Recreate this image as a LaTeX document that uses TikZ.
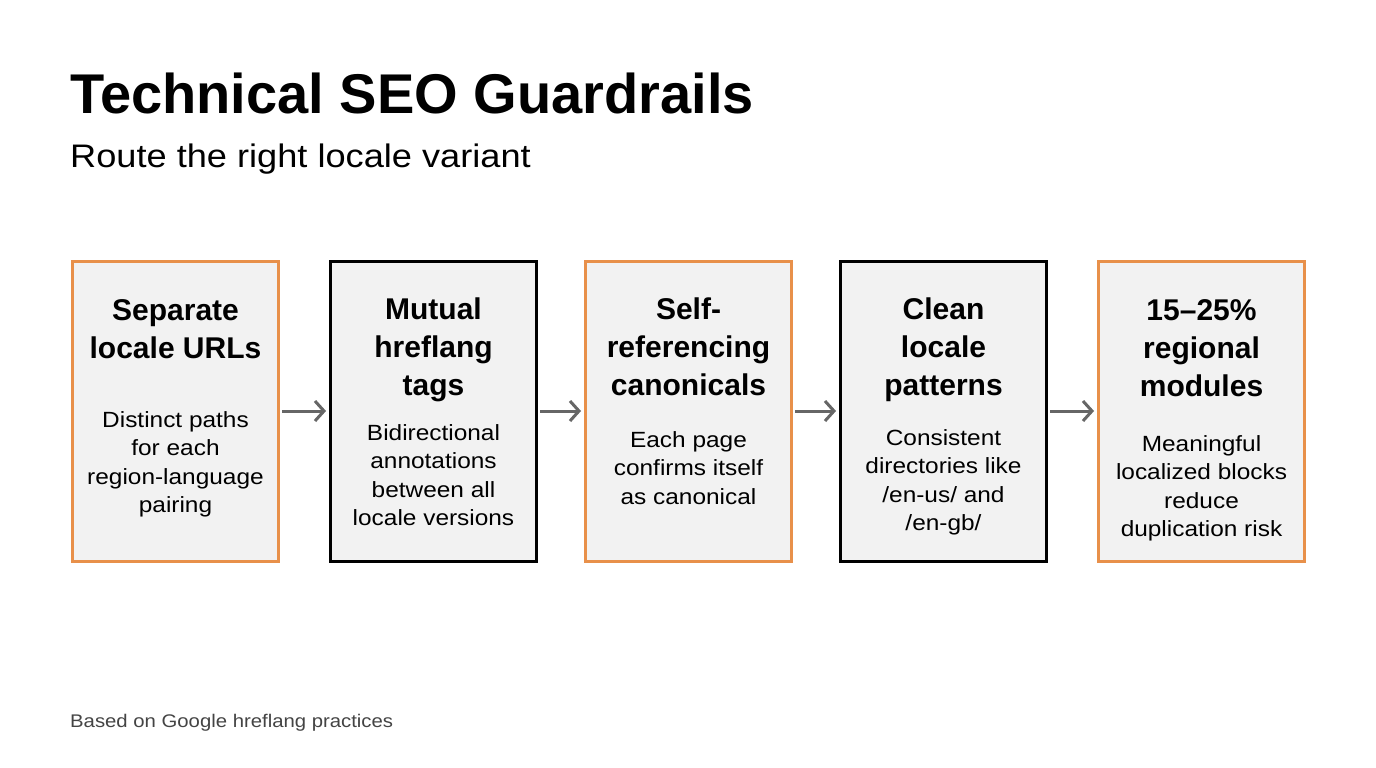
\documentclass[tikz,border=0pt]{standalone}
\usepackage{fontspec}
\setmainfont{Liberation Sans}
\newfontfamily\widefont{Liberation Sans}[FakeStretch=1.11]
\usetikzlibrary{arrows.meta}
\definecolor{orng}{HTML}{E8904A}
\definecolor{boxfill}{HTML}{F2F2F2}
\definecolor{arrowgray}{HTML}{666666}
\definecolor{foot}{HTML}{444444}
\tikzset{
  card/.style={draw, line width=3pt, fill=boxfill, minimum width=206pt, minimum height=300pt, inner sep=0pt},
  orangecard/.style={card, draw=orng},
  blackcard/.style={card, draw=black},
  ttl/.style={anchor=north, align=center, inner sep=0pt, font=\fontsize{30}{38}\selectfont\bfseries},
  bodytxt/.style={anchor=north, align=center, inner sep=0pt, font=\widefont\fontsize{22}{28.5}\selectfont},
  flow/.style={draw=arrowgray, line width=3pt, -{Straight Barb[length=9pt,width=20pt,line width=3pt]}, shorten <=2pt, shorten >=3pt}
}
\begin{document}
\begin{tikzpicture}[x=1pt,y=-1pt]
\useasboundingbox[fill=white] (0,0) rectangle (1376,768);
\node[anchor=base west, inner sep=0pt, font=\fontsize{56}{60}\selectfont\bfseries] (title) at (70,113) {Technical SEO Guardrails};
\node[anchor=base west, inner sep=0pt, font=\widefont\fontsize{32.6}{36}\selectfont] (sub) at (70,167) {Route the right locale variant};

\node[orangecard] (b1) at (175.5,411) {};
\node[blackcard] (b2) at (433.5,411) {};
\node[orangecard] (b3) at (688.5,411) {};
\node[blackcard] (b4) at (943.5,411) {};
\node[orangecard] (b5) at (1201.5,411) {};

\node[ttl] (t1) at (175.5,299) {Separate\\locale URLs};
\node[bodytxt] (d1) at (175.5,411) {Distinct paths\\for each\\region-language\\pairing};
\node[ttl] (t2) at (433.5,298) {Mutual\\hreflang\\tags};
\node[bodytxt] (d2) at (433.5,424) {Bidirectional\\annotations\\between all\\locale versions};
\node[ttl] (t3) at (688.5,298) {Self-\\referencing\\canonicals};
\node[bodytxt] (d3) at (688.5,431) {Each page\\confirms itself\\as canonical};
\node[ttl] (t4) at (943.5,298) {Clean\\locale\\patterns};
\node[bodytxt] (d4) at (943.5,429) {Consistent\\directories like\\/en-us/ and\\/en-gb/};
\node[ttl] (t5) at (1201.5,299) {15–25\%\\regional\\modules};
\node[bodytxt] (d5) at (1201.5,435) {Meaningful\\localized blocks\\reduce\\duplication risk};

\draw[flow] (b1.east) -- (b2.west);
\draw[flow] (b2.east) -- (b3.west);
\draw[flow] (b3.east) -- (b4.west);
\draw[flow] (b4.east) -- (b5.west);

\node[anchor=base west, inner sep=0pt, text=foot, font=\widefont\fontsize{18.3}{20}\selectfont] (src) at (70,727) {Based on Google hreflang practices};
\end{tikzpicture}
\end{document}
